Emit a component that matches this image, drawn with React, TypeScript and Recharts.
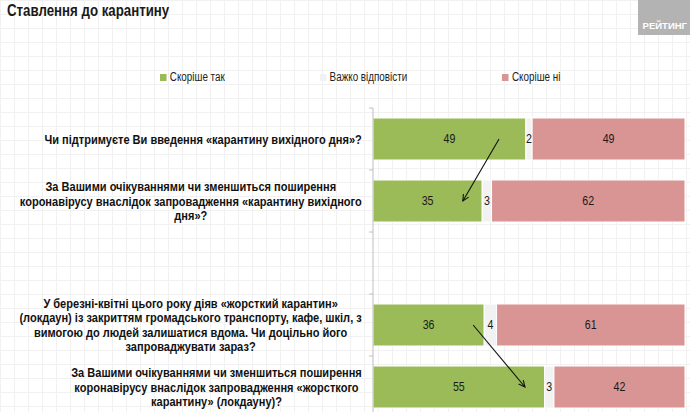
import React from 'react';
import {
  BarChart, Bar, XAxis, YAxis, LabelList, Legend, ReferenceLine,
} from 'recharts';

// category ids (one empty slot between the two question pairs)
const questionIds = ['q1', 'q2', 'gap', 'q3', 'q4'];

const questionLines = [
  ['Чи підтримуєте Ви введення «карантину вихідного дня»?'],
  [
    'За Вашими очікуваннями чи зменшиться поширення',
    'коронавірусу внаслідок запровадження «карантину вихідного',
    'дня»?',
  ],
  [],
  [
    'У березні-квітні цього року діяв «жорсткий карантин»',
    '(локдаун) із закриттям громадського транспорту, кафе, шкіл, з',
    'вимогою до людей залишатися вдома. Чи доцільно його',
    'запроваджувати зараз?',
  ],
  [
    'За Вашими очікуваннями чи зменшиться поширення',
    'коронавірусу внаслідок запровадження «жорсткого',
    'карантину» (локдауну)?',
  ],
];

const seriesNames = ['Скоріше так', 'Важко відповісти', 'Скоріше ні'];
const yesValues = [49, 35, null, 36, 55];
const hardValues = [2, 3, null, 4, 3];
const noValues = [49, 62, null, 61, 42];

// arrows between questions, in share-of-total units
const arrows = [
  { from: { x: 0.404, y: 'q1' }, to: { x: 0.288, y: 'q2' } },
  { from: { x: 0.321, y: 'q3' }, to: { x: 0.487, y: 'q4' } },
];

const data = questionIds.map((id, i) => ({
  id,
  yes: yesValues[i],
  hard: hardValues[i],
  no: noValues[i],
}));

// Arial Narrow look: Liberation Sans squeezed horizontally
const FONT = '"Liberation Sans", Arial, sans-serif';
const SQUEEZE = 0.82;
const LABEL_SQUEEZE = 0.85;
const LABEL_FONT = `bold 13px ${FONT}`;

const measureCtx = typeof document !== 'undefined'
  ? document.createElement('canvas').getContext('2d')
  : null;

function textWidth(s: string, font: string) {
  if (!measureCtx) return s.length * 7;
  measureCtx.font = font;
  return measureCtx.measureText(s).width;
}

function QuestionTick(props: any) {
  const { x, y, payload } = props;
  const lines = questionLines[questionIds.indexOf(payload.value)] || [];
  const half = payload.offset || 31;
  const w = LABEL_SQUEEZE * Math.max(0, ...lines.map((l) => textWidth(l, LABEL_FONT)));
  const cx = x - 11 - w / 2;
  const lh = 14.5;
  const y0 = y - ((lines.length - 1) * lh) / 2;
  return (
    <g>
      <line x1={x - 4} x2={x} y1={y - half} y2={y - half} stroke="#bfbfbf" />
      <text
        textAnchor="middle"
        style={{ font: LABEL_FONT }}
        fill="#111"
        transform={`translate(${cx},0) scale(${LABEL_SQUEEZE},1)`}
      >
        {lines.map((l, i) => (
          <tspan key={i} x={0} y={y0 + i * lh} dy="0.35em">{l}</tspan>
        ))}
      </text>
    </g>
  );
}

function ValueLabel(props: any) {
  const { x, y, width, height, value } = props;
  if (!value) return null;
  const cx = x + width / 2;
  const cy = y + height / 2;
  return (
    <text
      textAnchor="middle"
      dy="0.35em"
      fill="#1a1a1a"
      style={{ font: `12.5px ${FONT}` }}
      transform={`translate(${cx},${cy}) scale(0.85,1)`}
    >
      {value}
    </text>
  );
}

function ArrowShape(props: any) {
  const { x1, y1, x2, y2 } = props;
  const ang = Math.atan2(y2 - y1, x2 - x1);
  const len = 7;
  const spread = 0.45;
  const ax = x2 - len * Math.cos(ang - spread);
  const ay = y2 - len * Math.sin(ang - spread);
  const bx = x2 - len * Math.cos(ang + spread);
  const by = y2 - len * Math.sin(ang + spread);
  return (
    <g>
      <line x1={x1} y1={y1} x2={x2} y2={y2} stroke="#111" strokeWidth={1.1} />
      <path d={`M${ax},${ay} L${x2},${y2} L${bx},${by}`} fill="none" stroke="#111" strokeWidth={1.1} />
    </g>
  );
}

function renderLegend(props: any) {
  const items = [...(props.payload || [])].sort(
    (a: any, b: any) => seriesNames.indexOf(a.value) - seriesNames.indexOf(b.value),
  );
  return (
    <div
      style={{
        display: 'flex', gap: 95 / SQUEEZE, marginLeft: 160,
        transform: `scaleX(${SQUEEZE})`, transformOrigin: '0 0',
      }}
    >
      {items.map((p: any) => (
        <span key={p.value} style={{ display: 'flex', alignItems: 'center', font: `12px ${FONT}`, color: '#222', whiteSpace: 'nowrap' }}>
          <span style={{ width: 8, height: 7, background: p.color, marginRight: 4, display: 'inline-block' }} />
          {p.value}
        </span>
      ))}
    </div>
  );
}

export default function App() {
  return (
    <div
      style={{
        position: 'absolute', top: 0, left: 0, width: 690, height: 412, overflow: 'hidden',
        background: '#fff',
        backgroundImage: 'linear-gradient(#f1f1f1 1px, transparent 1px), linear-gradient(90deg, #f1f1f1 1px, transparent 1px)',
        backgroundSize: '14px 14px',
      }}
    >
      <div
        style={{
          position: 'absolute', left: 7, top: 1, font: `bold 17px ${FONT}`, color: '#1a1a1a',
          transform: 'scaleX(0.78)', transformOrigin: '0 0', whiteSpace: 'nowrap',
        }}
      >
        Ставлення до карантину
      </div>
      <div
        style={{
          position: 'absolute', right: 0, top: 0, width: 52, height: 35, background: '#b3b3b3',
          color: '#fff', font: `bold 9.5px ${FONT}`,
          display: 'flex', alignItems: 'flex-end', justifyContent: 'flex-end', padding: '0 3px 4px 0', boxSizing: 'border-box',
        }}
      >
        РЕЙТИНГ
      </div>
      <BarChart
        width={690}
        height={430}
        data={data}
        layout="vertical"
        stackOffset="expand"
        margin={{ top: 108, right: 5, bottom: 12, left: 0 }}
        style={{ position: 'absolute', top: 0, left: 0 }}
      >
        <XAxis type="number" hide />
        <YAxis
          type="category"
          dataKey="id"
          width={373}
          axisLine={{ stroke: '#bfbfbf' }}
          tickLine={false}
          tickSize={0}
          tickMargin={0}
          tick={<QuestionTick />}
          interval={0}
        />
        <Legend
          verticalAlign="middle"
          align="center"
          content={renderLegend}
          wrapperStyle={{ top: 70, left: 0, width: 690 }}
        />
        <Bar dataKey="yes" name={seriesNames[0]} stackId="a" fill="#9bbb59" stroke="#ffffff" strokeWidth={1} barSize={42} isAnimationActive={false}>
          <LabelList dataKey="yes" content={<ValueLabel />} />
        </Bar>
        <Bar dataKey="hard" name={seriesNames[1]} stackId="a" fill="#f2f2f2" stroke="#ffffff" strokeWidth={1} barSize={42} isAnimationActive={false}>
          <LabelList dataKey="hard" content={<ValueLabel />} />
        </Bar>
        <Bar dataKey="no" name={seriesNames[2]} stackId="a" fill="#d99594" stroke="#ffffff" strokeWidth={1} barSize={42} isAnimationActive={false}>
          <LabelList dataKey="no" content={<ValueLabel />} />
        </Bar>
        {arrows.map((a, i) => (
          <ReferenceLine key={i} segment={[a.from, a.to]} shape={<ArrowShape />} ifOverflow="visible" />
        ))}
      </BarChart>
    </div>
  );
}
